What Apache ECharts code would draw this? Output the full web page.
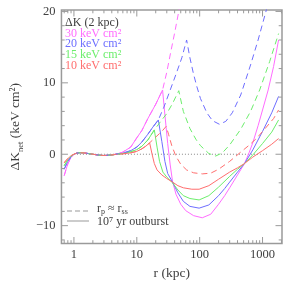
<!DOCTYPE html>
<html><head><meta charset="utf-8">
<script src="https://cdn.jsdelivr.net/npm/echarts/dist/echarts.min.js"></script>
<style>html,body{margin:0;padding:0;background:#fff}#c{width:299px;height:290px}</style>
</head><body><div id="c"></div>
<script>
// ---- data (r in kpc, ΔK_net in keV cm^2) ----
const rCore = [0.7, 0.75, 0.8, 0.9, 1.0, 1.1, 1.25, 1.5, 2.0, 2.5, 3.0, 4.0, 5.0];
const kCoreMag = [-3.0, -2.1, -1.35, -0.45, 0.0, 0.15, 0.22, 0.17, 0.0, -0.13, -0.18, -0.1, 0.08];
const kCoreBlu = [-2.1, -1.5, -1.0, -0.35, 0.0, 0.15, 0.22, 0.17, 0.0, -0.13, -0.18, -0.1, 0.05];
const kCoreGrn = [-1.6, -1.15, -0.8, -0.28, 0.0, 0.15, 0.22, 0.17, 0.0, -0.13, -0.18, -0.1, 0.03];
const kCoreRed = [-1.2, -0.85, -0.6, -0.2, 0.0, 0.15, 0.22, 0.17, 0.0, -0.13, -0.18, -0.1, 0.02];

// 30 keV cm^2
const rMagSolid = [6, 8, 10, 12, 15, 20, 25.7, 28, 31, 34, 37, 42, 50, 60, 80, 110, 150, 200, 250, 300, 400, 517, 610, 700, 850, 1000, 1230, 1500, 1800];
const kMagSolid = [0.3, 1.0, 2.3, 3.3, 5.0, 7.0, 9.0, 5.5, 1.5, -1.5, -3.8, -5.6, -7.0, -7.9, -8.6, -8.9, -8.4, -7.0, -5.8, -4.7, -2.9, -1.3, 0.2, 1.6, 4.0, 6.2, 9.0, 12.3, 16.0];
const rMagDash = [6, 8, 10, 12, 15, 20, 25.7, 30, 35, 40, 47, 55];
const kMagDash = [0.3, 1.0, 2.3, 3.3, 5.0, 7.0, 9.0, 11.5, 14.5, 17.0, 20.2, 23.5];
// 20 keV cm^2
const rBluSolid = [6, 8, 10, 12, 15, 18, 22, 25, 28, 31, 37, 45, 55, 70, 98, 140, 200, 250, 300, 400, 517, 700, 1000, 1400, 1800];
const kBluSolid = [0.15, 0.5, 1.0, 1.7, 2.8, 3.8, 4.8, 1.8, -1.0, -2.7, -3.9, -5.4, -6.6, -7.3, -7.55, -7.1, -5.8, -4.8, -3.9, -2.5, -1.3, 0.6, 3.2, 5.8, 8.1];
const rBluDash = [6, 8, 10, 12, 15, 18, 22, 27, 34, 42, 52, 62, 70, 80, 90, 103, 130, 160, 206, 260, 330, 450, 645, 850, 1150, 1300];
const kBluDash = [0.15, 0.5, 1.0, 1.7, 2.8, 3.8, 4.8, 6.6, 9.0, 11.2, 13.5, 16.0, 13.5, 11.2, 9.5, 7.8, 5.8, 4.7, 4.2, 4.6, 5.8, 8.3, 12.5, 16.0, 20.2, 22.0];
// 15 keV cm^2
const rGrnSolid = [6, 8, 10, 12, 15, 19, 21, 23, 26, 30, 37, 45, 55, 70, 98, 140, 200, 300, 400, 517, 700, 1000, 1400, 1800];
const kGrnSolid = [0.1, 0.35, 0.65, 1.1, 2.0, 3.4, 1.0, -1.0, -2.5, -3.2, -4.0, -5.0, -5.8, -6.2, -6.4, -5.8, -4.6, -3.1, -2.1, -1.3, -0.1, 1.5, 3.1, 4.8];
const rGrnDash = [6, 8, 10, 12, 15, 19, 24, 30, 37, 46.5, 55, 70, 87, 103, 140, 180, 230, 300, 450, 645, 900, 1300, 1800];
const kGrnDash = [0.1, 0.35, 0.65, 1.1, 2.0, 3.4, 4.6, 5.7, 7.1, 8.9, 6.0, 3.6, 2.1, 1.2, 0.1, -0.25, 0.2, 1.3, 3.5, 6.0, 9.0, 13.0, 16.9];
// 10 keV cm^2
const rRedSolid = [6, 8, 10, 12, 14, 16, 17.5, 19, 21, 25, 30, 37, 45, 55, 75, 98, 140, 200, 300, 400, 517, 700, 1000, 1400, 1800];
const kRedSolid = [0.06, 0.2, 0.4, 0.75, 1.15, 1.6, 0.0, -1.3, -2.2, -2.9, -3.4, -3.9, -4.4, -4.7, -4.9, -4.9, -4.4, -3.5, -2.5, -1.9, -1.3, -0.4, 0.5, 1.4, 2.2];
const rRedDash = [6, 8, 10, 12, 14, 16, 20, 25, 29.3, 32, 36, 42, 50, 62, 80, 110, 150, 200, 300, 450, 600, 800, 1100, 1500, 1800];
const kRedDash = [0.06, 0.2, 0.4, 0.75, 1.15, 1.6, 2.4, 3.2, 3.9, 2.8, 1.2, -0.3, -1.4, -2.2, -2.6, -2.75, -2.65, -2.1, -1.0, 0.3, 1.2, 2.2, 3.6, 5.0, 6.2];

const zeroLineR = [1, 1250];
const legendLabels = ['30 keV cm\u00b2', '20 keV cm\u00b2', '15 keV cm\u00b2', '10 keV cm\u00b2'];
const xLabelValues = [1, 10, 100, 1000];
const xMinorTicks = [0.7, 0.8, 0.9, 2, 3, 4, 5, 6, 7, 8, 9, 20, 30, 40, 50, 60, 70, 80, 90, 200, 300, 400, 500, 600, 700, 800, 900, 2000];
const yLabelValues = [-10, 0, 10, 20];
const yMinorTicks = [-12, -8, -6, -4, -2, 2, 4, 6, 8, 12, 14, 16, 18];

// ---- chart ----
const X_MIN = 0.633, X_MAX = 2040, Y_MIN = -12.5, Y_MAX = 20.2;
const COL = {mag: '#ff6cff', blu: '#6e6eff', grn: '#6cee6c', red: '#ff6e6e'};
const FRAME = '#9a9a9a';
const FONT = 'Liberation Serif';
const INK = '#404040';

function pts(rs, ks) { return rs.map((r, i) => [r, ks[i]]); }
function curve(coreK, rs, ks, color, dashed) {
  return {
    type: 'line', data: pts(rCore, coreK).concat(pts(rs, ks)), showSymbol: false, symbol: 'none',
    lineStyle: {color: color, width: 1, type: dashed ? [6, 4] : 'solid'}, clip: true, silent: true, z: 3
  };
}

const tickData = [];
xLabelValues.forEach(v => tickData.push([v, Y_MIN, 0, 6.5]));
xMinorTicks.forEach(v => tickData.push([v, Y_MIN, 0, 3.3]));
yLabelValues.forEach(v => tickData.push([X_MIN, v, 1, 6.5]));
yMinorTicks.forEach(v => tickData.push([X_MIN, v, 1, 3.3]));

const tickStyle = {stroke: FRAME, lineWidth: 1};
const series = [
  {type: 'line', data: zeroLineR.map(r => [r, 0]), showSymbol: false, symbol: 'none',
   lineStyle: {color: '#888', width: 1, type: [1, 2]}, silent: true, z: 2},
  curve(kCoreMag, rMagSolid, kMagSolid, COL.mag, false),
  curve(kCoreBlu, rBluSolid, kBluSolid, COL.blu, false),
  curve(kCoreGrn, rGrnSolid, kGrnSolid, COL.grn, false),
  curve(kCoreRed, rRedSolid, kRedSolid, COL.red, false),
  curve(kCoreMag, rMagDash, kMagDash, COL.mag, true),
  curve(kCoreBlu, rBluDash, kBluDash, COL.blu, true),
  curve(kCoreGrn, rGrnDash, kGrnDash, COL.grn, true),
  curve(kCoreRed, rRedDash, kRedDash, COL.red, true),
  {type: 'custom', data: tickData, clip: false, silent: true, z: 5,
   renderItem: function (params, api) {
     const kind = api.value(2), len = api.value(3);
     if (kind === 0) {
       const b = api.coord([api.value(0), Y_MIN]), t = api.coord([api.value(0), Y_MAX]);
       return {type: 'group', children: [
         {type: 'line', shape: {x1: b[0], y1: b[1], x2: b[0], y2: b[1] - len}, style: tickStyle},
         {type: 'line', shape: {x1: t[0], y1: t[1], x2: t[0], y2: t[1] + len}, style: tickStyle}]};
     }
     const l = api.coord([X_MIN, api.value(1)]), r = api.coord([X_MAX, api.value(1)]);
     return {type: 'group', children: [
       {type: 'line', shape: {x1: l[0], y1: l[1], x2: l[0] + len, y2: l[1]}, style: tickStyle},
       {type: 'line', shape: {x1: r[0], y1: r[1], x2: r[0] - len, y2: r[1]}, style: tickStyle}]};
   }}
];

const txt = (x, y, text, color) => ({
  type: 'text', x: x, y: y, silent: true,
  style: {text: text, fill: color, font: '12px "' + FONT + '"', textVerticalAlign: 'middle'}
});

const legendColors = [COL.mag, COL.blu, COL.grn, COL.red];
const graphics = [txt(65, 23, '\u0394K (2 kpc)', INK)];
legendLabels.forEach((s, i) => graphics.push(txt(65, 33.5 + i * 10.8, s, legendColors[i])));
graphics.push({type: 'line', silent: true, shape: {x1: 67, y1: 211, x2: 89, y2: 211}, style: {stroke: '#999', lineWidth: 1, lineDash: [5, 3]}});
graphics.push({type: 'line', silent: true, shape: {x1: 67, y1: 221, x2: 89, y2: 221}, style: {stroke: '#999', lineWidth: 1}});
graphics.push({type: 'text', x: 97, y: 202.5, silent: true, style: {
  text: '{a|r}{s|p}{a| \u2248 r}{s|ss}',
  rich: {a: {fontFamily: FONT, fontSize: 12, fill: INK, verticalAlign: 'top', lineHeight: 14},
         s: {fontFamily: FONT, fontSize: 8, fill: INK, verticalAlign: 'top', lineHeight: 10, padding: [5, 0, 0, 0]}}}});
graphics.push(txt(97, 222, '10\u2077 yr outburst', INK));

const chart = echarts.init(document.getElementById('c'), null, {renderer: 'canvas'});
chart.setOption({
  animation: false,
  backgroundColor: '#fff',
  grid: {left: 47, right: 17, top: 10, bottom: 46.5, show: true, borderColor: FRAME, borderWidth: 1.5, backgroundColor: 'transparent'},
  xAxis: {
    type: 'log', logBase: 10, min: X_MIN, max: X_MAX,
    name: 'r (kpc)', nameLocation: 'middle', nameGap: 17,
    nameTextStyle: {fontFamily: FONT, fontSize: 13.5, color: INK},
    axisLine: {show: false}, axisTick: {show: false}, splitLine: {show: false}, minorTick: {show: false},
    axisLabel: {fontFamily: FONT, fontSize: 12.5, color: INK, margin: 5, showMinLabel: true, showMaxLabel: true,
      formatter: function (v) {
        const lg = Math.log10(v);
        if (Math.abs(lg - Math.round(lg)) < 1e-6 && v >= 1 && v <= 1000) return String(Math.round(v));
        return '';
      }}
  },
  yAxis: {
    type: 'value', min: Y_MIN, max: Y_MAX, splitNumber: 3,
    name: '{a|\u0394K}{s|net}{a| (keV cm\u00b2)}', nameLocation: 'middle', nameGap: 28,
    nameTextStyle: {color: INK, rich: {
      a: {fontFamily: FONT, fontSize: 13.5, color: INK, verticalAlign: 'top'},
      s: {fontFamily: FONT, fontSize: 8.5, color: INK, verticalAlign: 'top', padding: [8, 0, 0, 0]}}},
    axisLine: {show: false}, axisTick: {show: false}, splitLine: {show: false},
    axisLabel: {fontFamily: FONT, fontSize: 12.5, color: INK, margin: 6, customValues: yLabelValues,
      formatter: function (v) {
        if (Math.abs(v - Math.round(v / 10) * 10) > 1e-6) return '';
        return v < 0 ? '\u2212' + Math.abs(v) : String(v);
      }}
  },
  series: series,
  graphic: graphics
});
</script>
</body></html>
